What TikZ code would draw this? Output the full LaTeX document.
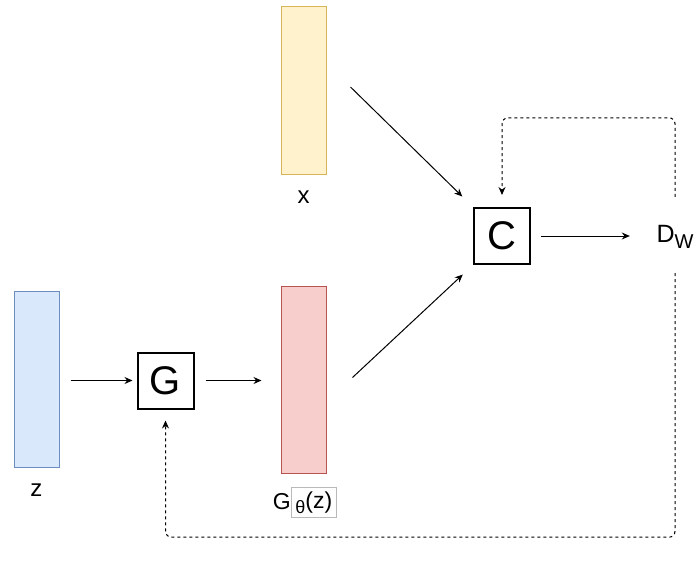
\documentclass[tikz,border=0pt]{standalone}
\usepackage{fontspec}
\setmainfont{Liberation Sans}
\usetikzlibrary{arrows.meta}
\definecolor{yfill}{HTML}{FFF2CC}\definecolor{ydraw}{HTML}{D6B656}
\definecolor{bfill}{HTML}{DAE8FC}\definecolor{bdraw}{HTML}{6C8EBF}
\definecolor{rfill}{HTML}{F8CECC}\definecolor{rdraw}{HTML}{B85450}
\tikzset{
  bar/.style={rectangle, line width=1pt, minimum width=45pt, inner sep=0pt},
  opbox/.style={rectangle, draw, line width=2pt, minimum size=56pt, inner sep=0pt,
    font=\fontsize{40}{46}\selectfont},
  lbl/.style={inner sep=0pt, font=\fontsize{24}{28}\selectfont},
  arr/.style={-{Stealth[length=8pt,width=7pt]}, line width=1pt},
  fb/.style={arr, dash pattern=on 3pt off 3pt, rounded corners=6pt}
}
\begin{document}
\begin{tikzpicture}[x=1pt,y=-1pt]
\useasboundingbox (0,0) rectangle (696,566);
% data bars
\node[bar, fill=yfill, draw=ydraw, minimum height=168pt] (xbar) at (303.5,90) {};
\node[bar, fill=bfill, draw=bdraw, minimum height=176pt] (zbar) at (36.5,379) {};
\node[bar, fill=rfill, draw=rdraw, minimum height=187pt] (gbar) at (303.5,379.5) {};
% bar labels
\node[lbl] (xlab) at (303.5,197) {x};
\node[lbl] (zlab) at (36.5,490) {z};
\node[lbl, font=\fontsize{23}{27}\selectfont, anchor=base east] (glab) at (291,509) {G};
\node[draw=gray!55, line width=0.6pt, minimum width=45pt, minimum height=30pt,
  inner sep=0pt, anchor=north west, font=\fontsize{23}{27}\selectfont] (gsub) at (291,487)
  {\raisebox{-5pt}{\fontsize{18}{21}\selectfont θ}(z)};
% generator and critic
\node[opbox] (G) at (165.5,380.5) {G};
\node[opbox] (C) at (502,236) {C};
% critic output
\node[inner sep=0pt, minimum width=40pt, minimum height=50pt] (DW) at (675,237)
  {\fontsize{25}{29}\selectfont D\raisebox{-6pt}{\fontsize{20}{24}\selectfont W}};
% forward connections
\draw[arr, shorten <=11pt, shorten >=4pt] (zbar.east |- G.west) -- (G.west);
\draw[arr, shorten <=11pt, shorten >=19pt] (G.east) -- (G.east -| gbar.west);
\draw[arr, shorten >=15pt] ([xshift=24pt,yshift=3pt]xbar.east) -- (C.north west);
\draw[arr, shorten >=14pt] ([xshift=26pt,yshift=2pt]gbar.east) -- (C.south west);
\draw[arr, shorten <=10pt, shorten >=25pt] (C.east) -- (C.east -| DW.west);
% feedback paths
\draw[fb, shorten <=15pt, shorten >=12pt] (DW.north) -- ++(0,-94) -| (C.north);
\draw[fb, shorten <=11pt, shorten >=11pt] (DW.south) -- ++(0,275) -| (G.south);
\end{tikzpicture}
\end{document}
